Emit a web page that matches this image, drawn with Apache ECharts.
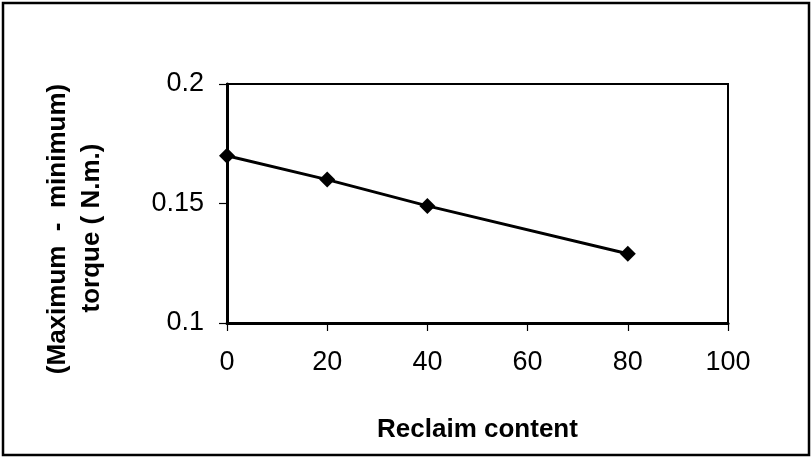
<!DOCTYPE html>
<html>
<head>
<meta charset="utf-8">
<script src="https://cdn.jsdelivr.net/npm/echarts@6/dist/echarts.min.js"></script>
<style>
  html, body { margin: 0; padding: 0; background: #fff; }
  #chart { width: 812px; height: 458px; }
</style>
</head>
<body>
<div id="chart"></div>
<script>
// Reclaim content (x) vs. (maximum - minimum) torque (y)
const reclaimContent = [0, 20, 40, 80];
const torqueDiff = [0.17, 0.16, 0.149, 0.129];
const xTicks = [0, 20, 40, 60, 80, 100];
const yTicks = [0.1, 0.15, 0.2];

const xTitle = 'Reclaim content';
const yTitleLines = ['(Maximum  -  minimum)', 'torque ( N.m.)'];

const points = reclaimContent.map((x, i) => [x, torqueDiff[i]]);

const chart = echarts.init(document.getElementById('chart'), null, { renderer: 'canvas' });

const FAMILY = 'Liberation Sans, Arial, sans-serif';
const labelFont = { fontFamily: FAMILY, fontSize: 27, color: '#000' };
const titleFont = { fontFamily: FAMILY, fontSize: 26, fontWeight: 'bold', color: '#000' };

chart.setOption({
  animation: false,
  backgroundColor: '#fff',
  grid: {
    left: 227, right: 84, top: 84, bottom: 135,
    show: true, borderColor: '#000', borderWidth: 2, backgroundColor: 'transparent'
  },
  xAxis: {
    type: 'value',
    min: xTicks[0], max: xTicks[xTicks.length - 1], interval: 20,
    axisLine: { show: true, onZero: false, lineStyle: { color: '#000', width: 3 } },
    axisTick: { show: true, inside: false, length: 8, lineStyle: { color: '#000', width: 1.2 } },
    splitLine: { show: false },
    axisLabel: Object.assign({ margin: 26 }, labelFont),
    name: xTitle,
    nameLocation: 'middle',
    nameGap: 94,
    nameTextStyle: titleFont
  },
  yAxis: {
    type: 'value',
    min: yTicks[0], max: yTicks[yTicks.length - 1], interval: 0.05,
    axisLine: { show: true, onZero: false, lineStyle: { color: '#000', width: 3 } },
    axisTick: { show: true, inside: false, length: 8, lineStyle: { color: '#000', width: 1.2 } },
    splitLine: { show: false },
    axisLabel: Object.assign({ margin: 23, formatter: v => String(+v.toFixed(2)) }, labelFont)
  },
  graphic: [
    {
      type: 'rect',
      shape: { x: 3, y: 3, width: 806, height: 452 },
      style: { fill: 'none', stroke: '#000', lineWidth: 2.5 },
      silent: true
    },
    {
      type: 'text',
      x: 58, y: 229, rotation: Math.PI / 2,
      style: { text: yTitleLines[0], textAlign: 'center', textVerticalAlign: 'middle',
               font: 'bold 26px ' + FAMILY, fill: '#000' }
    },
    {
      type: 'text',
      x: 92, y: 228, rotation: Math.PI / 2,
      style: { text: yTitleLines[1], textAlign: 'center', textVerticalAlign: 'middle',
               font: 'bold 26px ' + FAMILY, fill: '#000' }
    }
  ],
  series: [{
    type: 'line',
    data: points,
    symbol: 'diamond',
    symbolSize: 16,
    itemStyle: { color: '#000' },
    lineStyle: { color: '#000', width: 3 },
    label: { show: false }
  }]
});
</script>
</body>
</html>
